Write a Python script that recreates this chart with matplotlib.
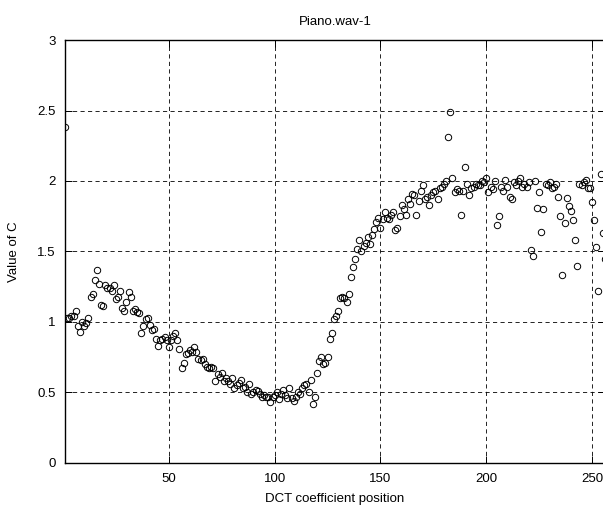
import numpy as np
import matplotlib.pyplot as plt

# valori di C per ogni posizione del coefficiente DCT (1..256)
c_vals = [
    2.38, 1.03, 1.03, 1.04, 1.04, 1.08, 0.97, 0.93, 1.00, 0.97,
    0.99, 1.03, 1.18, 1.20, 1.30, 1.37, 1.27, 1.12, 1.11, 1.26,
    1.24, 1.24, 1.22, 1.26, 1.16, 1.18, 1.22, 1.10, 1.08, 1.14,
    1.21, 1.18, 1.08, 1.09, 1.07, 1.06, 0.92, 0.97, 1.02, 1.03,
    0.98, 0.94, 0.95, 0.88, 0.83, 0.87, 0.88, 0.89, 0.87, 0.82,
    0.87, 0.90, 0.92, 0.87, 0.81, 0.67, 0.71, 0.77, 0.78, 0.80,
    0.79, 0.82, 0.79, 0.74, 0.73, 0.74, 0.70, 0.68, 0.67, 0.68,
    0.67, 0.58, 0.63, 0.61, 0.64, 0.58, 0.60, 0.58, 0.56, 0.60,
    0.53, 0.55, 0.57, 0.59, 0.53, 0.54, 0.50, 0.56, 0.49, 0.50,
    0.52, 0.51, 0.49, 0.47, 0.48, 0.47, 0.47, 0.43, 0.47, 0.48,
    0.50, 0.45, 0.49, 0.52, 0.48, 0.46, 0.53, 0.46, 0.44, 0.47,
    0.50, 0.49, 0.53, 0.55, 0.56, 0.50, 0.59, 0.42, 0.47, 0.64,
    0.72, 0.75, 0.70, 0.71, 0.75, 0.88, 0.92, 1.02, 1.04, 1.08,
    1.17, 1.18, 1.17, 1.14, 1.20, 1.32, 1.39, 1.45, 1.52, 1.58,
    1.50, 1.54, 1.56, 1.60, 1.55, 1.62, 1.66, 1.71, 1.74, 1.67,
    1.73, 1.78, 1.74, 1.73, 1.76, 1.78, 1.65, 1.67, 1.75, 1.83,
    1.80, 1.76, 1.87, 1.84, 1.91, 1.90, 1.76, 1.86, 1.93, 1.97,
    1.87, 1.89, 1.83, 1.90, 1.92, 1.93, 1.87, 1.95, 1.96, 1.98,
    2.00, 2.31, 2.49, 2.02, 1.92, 1.94, 1.93, 1.76, 1.93, 2.10,
    1.98, 1.90, 1.95, 1.96, 1.98, 1.97, 1.97, 2.00, 1.99, 2.02,
    1.92, 1.96, 1.94, 2.00, 1.69, 1.75, 1.96, 1.93, 2.01, 1.96,
    1.89, 1.87, 1.99, 1.97, 2.00, 2.02, 1.96, 1.98, 1.96, 1.99,
    1.51, 1.47, 2.00, 1.81, 1.92, 1.64, 1.80, 1.98, 1.97, 1.99,
    1.95, 1.96, 1.98, 1.89, 1.75, 1.33, 1.70, 1.88, 1.82, 1.79,
    1.72, 1.58, 1.40, 1.98, 1.97, 1.99, 2.01, 1.95, 1.95, 1.85,
    1.72, 1.53, 1.22, 2.05, 1.63, 1.45,
]
positions = np.arange(1, len(c_vals) + 1)

x_ticks = [50, 100, 150, 200, 250]
y_ticks = [0, 0.5, 1, 1.5, 2, 2.5, 3]
y_tick_labels = ['0', '0.5', '1', '1.5', '2', '2.5', '3']

plt.rcParams['font.family'] = ['Liberation Sans', 'DejaVu Sans']
plt.rcParams['font.size'] = 9.5

fig = plt.figure(figsize=(6.03, 5.07), dpi=100)
ax = fig.add_axes([0.108, 0.087, 0.895, 0.834])

ax.plot(positions, c_vals, 'o', mfc='none', mec='black', ms=4.6, mew=0.7, zorder=3)

ax.set_xlim(1, 256)
ax.set_ylim(0, 3)
ax.set_xticks(x_ticks)
ax.set_yticks(y_ticks)
ax.set_yticklabels(y_tick_labels)
ax.tick_params(direction='in', length=5, width=0.7, top=True, right=True,
               colors='black', pad=7)
ax.grid(True, color='black', linestyle=(0, (5, 4)), linewidth=0.6)
for s in ax.spines.values():
    s.set_linewidth(1.0)

ax.set_xlabel('DCT coefficient position', labelpad=6)
ax.set_ylabel('Value of C', labelpad=12)
ax.set_title('Piano.wav-1', fontsize=9.5, pad=11)

fig.savefig('out.png', dpi=100)
